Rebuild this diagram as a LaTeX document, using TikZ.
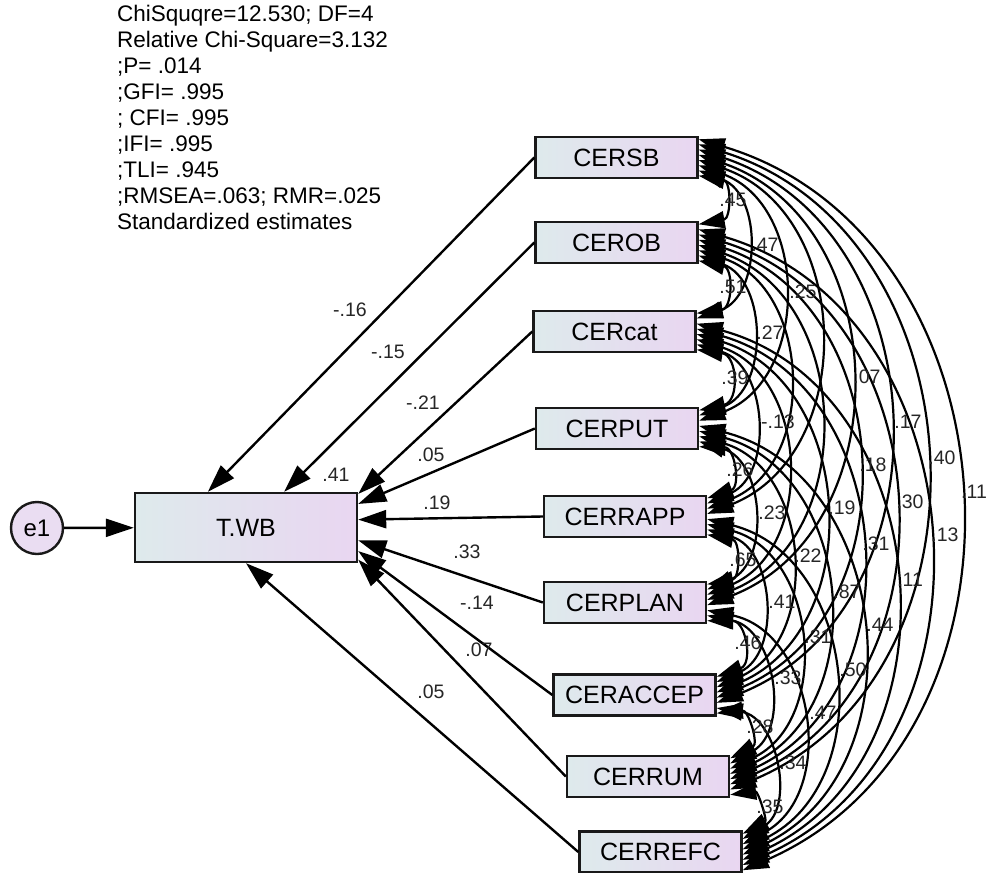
\documentclass[tikz,border=0pt]{standalone}
\usepackage{fontspec}
\setmainfont{Liberation Sans}
\usetikzlibrary{calc,arrows.meta}
\definecolor{boxleft}{RGB}{222,234,236}
\definecolor{boxright}{RGB}{233,214,241}
\definecolor{errfill}{RGB}{234,221,242}
\tikzset{
  var/.style={draw=black!90, line width=2.4pt, left color=boxleft, right color=boxright,
    minimum width=162pt, minimum height=41pt, inner sep=0pt, font=\fontsize{25}{30}\selectfont},
  reg/.style={-{Triangle[length=28pt,width=18pt]}, line width=2.4pt},
  cov/.style={{Triangle[length=26pt,width=17pt]}-{Triangle[length=26pt,width=17pt]}, line width=2.2pt},
  covnear/.style={bend left=80, looseness=1.75},
  covfar/.style={bend left=70, looseness=1.18},
  lbl/.style={inner sep=0pt, text=black!85, font=\fontsize{19.5}{22}\selectfont}
}
% covariance arc between the right edges of two boxes
\def\covarc[#1](#2:#3)(#4:#5){\draw[cov] ($(#2.north east)!#3!(#2.south east)$) to[#1] ($(#4.north east)!#5!(#4.south east)$);}

\begin{document}
\begin{tikzpicture}[x=1pt, y=-1pt]
		%%%%% FRAME %%%%%
		\fill[white] (0, 0) rectangle (987, 872);
		\useasboundingbox (0, 0) rectangle (987, 872);
		
		\node[anchor=north west, align=left, inner sep=0pt, font=\fontsize{22.5}{26}\selectfont] (fit) at (117, 5)
		{ChiSquqre=12.530; DF=4\\Relative Chi-Square=3.132\\;P= .014\\;GFI= .995\\; CFI= .995\\;IFI= .995\\;TLI= .945\\;RMSEA=.063; RMR=.025\\Standardized estimates};
		
		%%%%% VARIABLES %%%%%
		\node[var] (sb) at (616.5, 157.5) {CERSB};
		\node[var] (ob) at (616.5, 242.5) {CEROB};
		\node[var] (cat) at (614.5, 331.5) {CERcat};
		\node[var] (put) at (617, 428.5) {CERPUT};
		\node[var] (rapp) at (625, 516.5) {CERRAPP};
		\node[var] (plan) at (625, 602.5) {CERPLAN};
		\node[var] (accep) at (634.5, 695) {CERACCEP};
		\node[var] (rum) at (648, 776.5) {CERRUM};
		\node[var] (refc) at (660.5, 852) {CERREFC};
		
		\node[var, minimum width=222pt, minimum height=69pt] (twb) at (246, 527.5) {T.WB};
		\node[circle, draw=black!90, line width=2.4pt, fill=errfill, minimum size=52pt, inner sep=0pt,
		  font=\fontsize{24}{28}\selectfont] (e1) at (37, 528) {e1};
		
		%%%%% REGRESSION PATHS %%%%%
		\draw[reg] (e1) -- (twb);
		\draw[reg] (sb.west) -- ($(twb.north west)!0.33!(twb.north east)$);
		\draw[reg] (ob.west) -- ($(twb.north west)!0.67!(twb.north east)$);
		\draw[reg] (cat.west) -- ($(twb.north east)!0.03!(twb.south east)$);
		\draw[reg] (put.west) -- ($(twb.north east)!0.17!(twb.south east)$);
		\draw[reg] (rapp.west) -- ($(twb.north east)!0.39!(twb.south east)$);
		\draw[reg] (plan.west) -- ($(twb.north east)!0.68!(twb.south east)$);
		\draw[reg] (accep.west) -- ($(twb.north east)!0.83!(twb.south east)$);
		\draw[reg] (rum.west) -- ($(twb.north east)!0.95!(twb.south east)$);
		\draw[reg] (refc.west) -- (twb.south);
		
		\node[lbl] (r1) at (350, 310) {-.16};
		\node[lbl] (r2) at (388, 352) {-.15};
		\node[lbl] (r3) at (423, 403) {-.21};
		\node[lbl] (r4) at (431, 455) {.05};
		\node[lbl] (r5) at (336, 475) {.41};
		\node[lbl] (r6) at (437, 503) {.19};
		\node[lbl] (r7) at (467, 552) {.33};
		\node[lbl] (r8) at (477, 603) {-.14};
		\node[lbl] (r9) at (479, 650) {.07};
		\node[lbl] (r10) at (431, 692) {.05};
		
		%%%%% COVARIANCES %%%%%
		\covarc[covnear](sb:.92)(ob:.08)
		\covarc[covfar](sb:.80)(cat:.20)
		\covarc[covfar](sb:.68)(put:.32)
		\covarc[covfar](sb:.56)(rapp:.44)
		\covarc[covfar](sb:.44)(plan:.56)
		\covarc[covfar](sb:.32)(accep:.68)
		\covarc[covfar](sb:.20)(rum:.80)
		\covarc[covfar](sb:.08)(refc:.92)
		
		\covarc[covnear](ob:.92)(cat:.08)
		\covarc[covfar](ob:.80)(put:.20)
		\covarc[covfar](ob:.68)(rapp:.32)
		\covarc[covfar](ob:.56)(plan:.44)
		\covarc[covfar](ob:.44)(accep:.56)
		\covarc[covfar](ob:.32)(rum:.68)
		\covarc[covfar](ob:.20)(refc:.80)
		
		\covarc[covnear](cat:.92)(put:.08)
		\covarc[covfar](cat:.80)(rapp:.20)
		\covarc[covfar](cat:.68)(plan:.32)
		\covarc[covfar](cat:.56)(accep:.44)
		\covarc[covfar](cat:.44)(rum:.56)
		\covarc[covfar](cat:.32)(refc:.68)
		
		\covarc[covnear](put:.92)(rapp:.08)
		\covarc[covfar](put:.80)(plan:.20)
		\covarc[covfar](put:.68)(accep:.32)
		\covarc[covfar](put:.56)(rum:.44)
		\covarc[covfar](put:.44)(refc:.56)
		
		\covarc[covnear](rapp:.92)(plan:.08)
		\covarc[covfar](rapp:.80)(accep:.20)
		\covarc[covfar](rapp:.68)(rum:.32)
		\covarc[covfar](rapp:.56)(refc:.44)
		
		\covarc[covnear](plan:.92)(accep:.08)
		\covarc[covfar](plan:.80)(rum:.20)
		\covarc[covfar](plan:.68)(refc:.32)
		
		\covarc[covnear](accep:.92)(rum:.08)
		\covarc[covfar](accep:.80)(refc:.20)
		
		\covarc[covnear](rum:.92)(refc:.08)
		
		\node[lbl] (k1) at (733, 200) {.45};
		\node[lbl] (k2) at (765, 245) {.47};
		\node[lbl] (k3) at (803, 292) {.25};
		\node[lbl] (k4) at (733, 287) {.51};
		\node[lbl] (k5) at (770, 333) {.27};
		\node[lbl] (k6) at (867, 377) {.07};
		\node[lbl] (k7) at (735, 378) {.39};
		\node[lbl] (k8) at (778, 422) {-.13};
		\node[lbl] (k9) at (908, 422) {.17};
		\node[lbl] (k10) at (873, 465) {.18};
		\node[lbl] (k11) at (942, 458) {.40};
		\node[lbl] (k12) at (740, 470) {.26};
		\node[lbl] (k13) at (974, 492) {.11};
		\node[lbl] (k14) at (772, 513) {.23};
		\node[lbl] (k15) at (842, 508) {.19};
		\node[lbl] (k16) at (910, 502) {.30};
		\node[lbl] (k17) at (945, 535) {.13};
		\node[lbl] (k18) at (876, 544) {.31};
		\node[lbl] (k19) at (808, 556) {.22};
		\node[lbl] (k20) at (743, 560) {.65};
		\node[lbl] (k21) at (910, 580) {.11};
		\node[lbl] (k22) at (847, 592) {.87};
		\node[lbl] (k23) at (782, 602) {.41};
		\node[lbl] (k24) at (880, 625) {.44};
		\node[lbl] (k25) at (818, 637) {.31};
		\node[lbl] (k26) at (748, 643) {.46};
		\node[lbl] (k27) at (853, 670) {.50};
		\node[lbl] (k28) at (788, 678) {.33};
		\node[lbl] (k29) at (823, 713) {.47};
		\node[lbl] (k30) at (760, 727) {.28};
		\node[lbl] (k31) at (793, 763) {.34};
		\node[lbl] (k32) at (770, 807) {.35};
		%%%%% END %%%%%
	\end{tikzpicture}
\end{document}
